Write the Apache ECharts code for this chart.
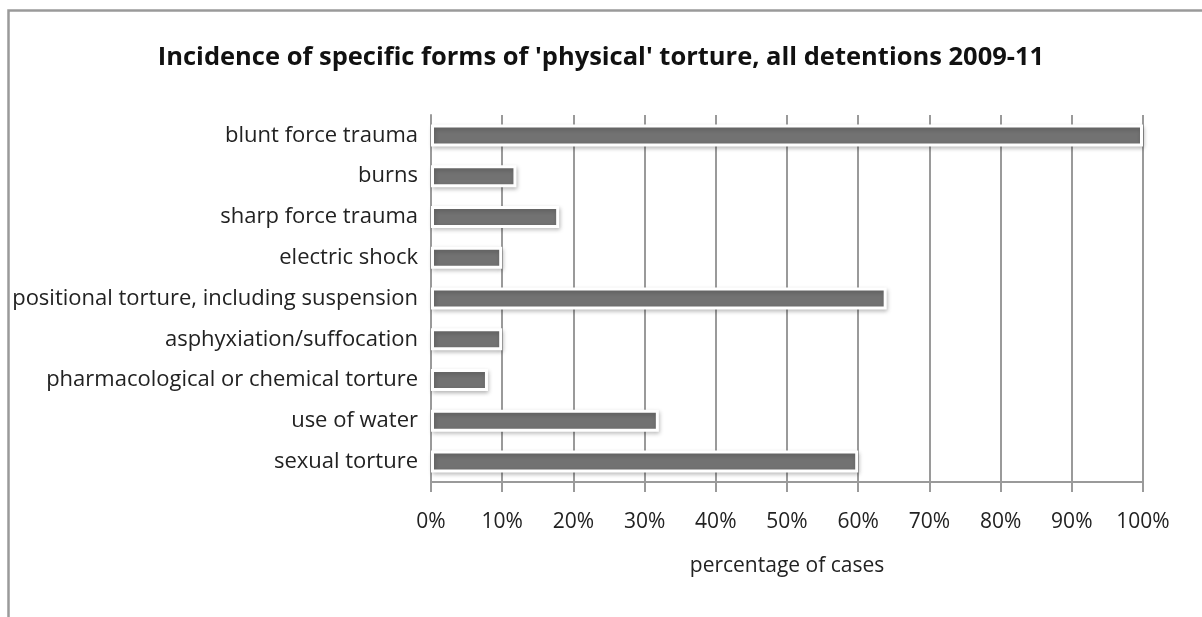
<!DOCTYPE html>
<html>
<head>
<meta charset="utf-8">
<script src="https://cdn.jsdelivr.net/npm/echarts@6/dist/echarts.min.js"></script>
<style>
  html, body { margin: 0; padding: 0; background: #fff; }
  #chart { width: 1202px; height: 617px; }
</style>
</head>
<body>
<div id="chart"></div>
<script>
// categories top to bottom
var categories = [
  'blunt force trauma',
  'burns',
  'sharp force trauma',
  'electric shock',
  'positional torture, including suspension',
  'asphyxiation/suffocation',
  'pharmacological or chemical torture',
  'use of water',
  'sexual torture'
]
// percentage of cases
var values = [100, 12, 18, 10, 64, 10, 8, 32, 60]

var font = 'Open Sans'
var myChart = echarts.init(document.getElementById('chart'))

var option = {
  backgroundColor: '#fff',
  animation: false,
  textStyle: { fontFamily: font },
  title: {
    text: "Incidence of specific forms of 'physical' torture, all detentions 2009-11",
    left: 'center',
    top: 40,
    textStyle: { fontFamily: font, fontSize: 25.5, fontWeight: 'bold', color: '#111' }
  },
  // chart frame, only top and left edges show in the picture
  graphic: [{
    type: 'rect',
    left: 6, top: 8,
    shape: { width: 1400, height: 800 },
    style: { fill: 'none', stroke: '#9a9a9a', lineWidth: 2.5 },
    silent: true
  }],
  grid: {
    left: 431,
    right: 59,
    top: 115,
    bottom: 135
  },
  xAxis: {
    type: 'value',
    min: 0,
    max: 100,
    interval: 10,
    name: 'percentage of cases',
    nameLocation: 'middle',
    nameGap: 74,
    nameTextStyle: { fontSize: 21, color: '#222' },
    axisLine: { show: true, lineStyle: { color: '#9a9a9a', width: 2 } },
    axisTick: { show: true, length: 10, lineStyle: { color: '#9a9a9a', width: 2 } },
    axisLabel: {
      fontSize: 21,
      color: '#222',
      margin: 30,
      formatter: function (v) { return v + '%' }
    },
    splitLine: { show: true, lineStyle: { color: '#9a9a9a', width: 2 } }
  },
  yAxis: {
    type: 'category',
    inverse: true,
    data: categories,
    axisLine: { show: true, lineStyle: { color: '#9a9a9a', width: 2 } },
    axisTick: { show: false },
    axisLabel: { fontSize: 22, color: '#222', margin: 13 }
  },
  series: [{
    type: 'bar',
    data: values,
    barWidth: 22,
    itemStyle: {
      color: '#727272',
      borderColor: '#ffffff',
      borderWidth: 3,
      shadowColor: 'rgba(0,0,0,0.22)',
      shadowBlur: 4,
      shadowOffsetX: 1,
      shadowOffsetY: 2
    }
  }]
}
myChart.setOption(option)
</script>
</body>
</html>
